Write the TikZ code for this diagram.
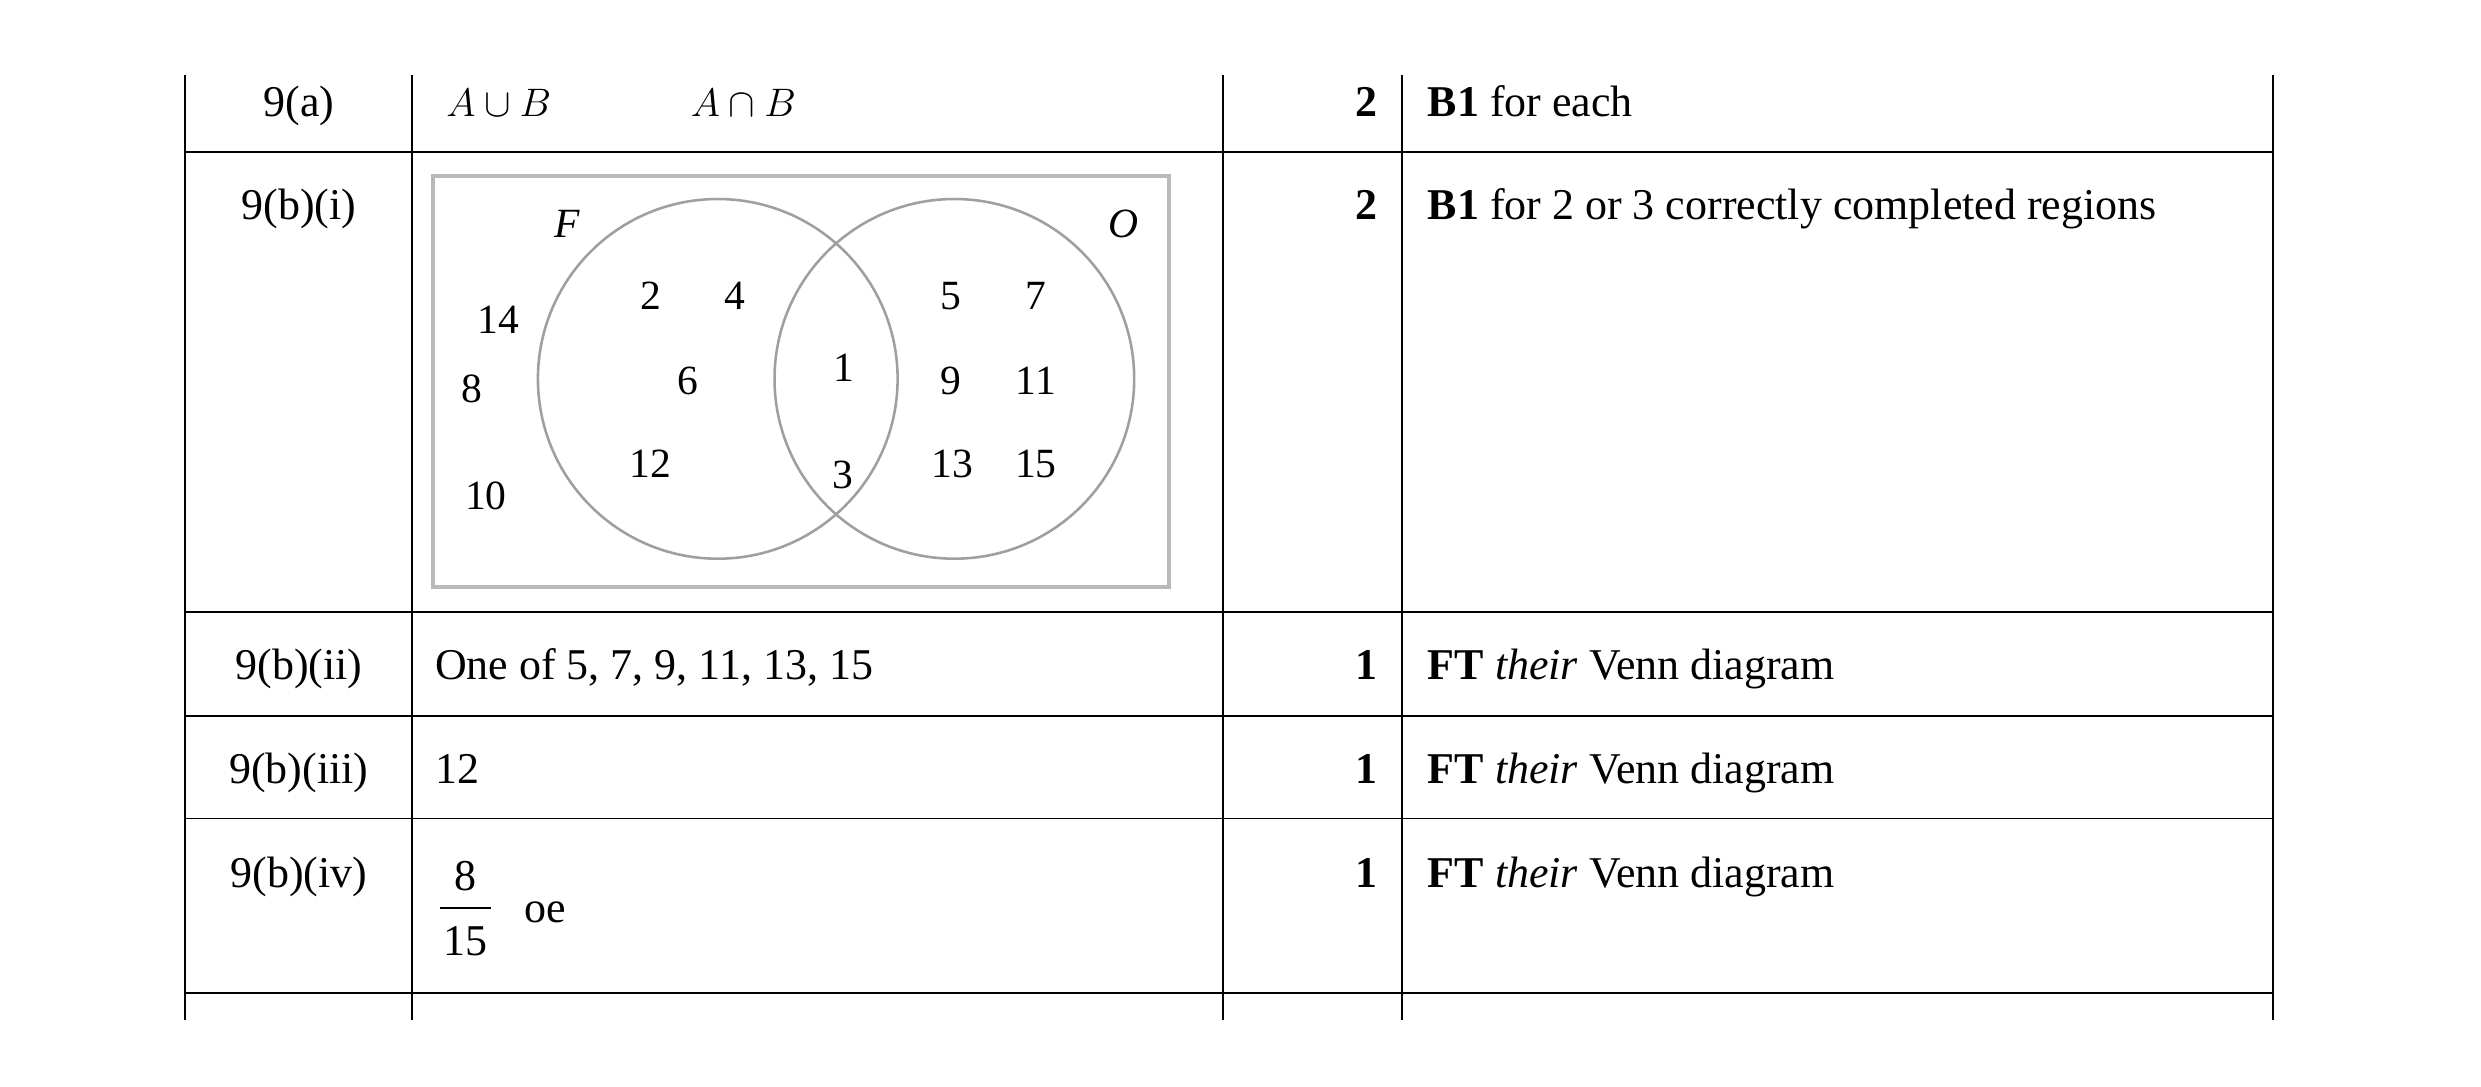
\documentclass[tikz,border=0pt]{standalone}
\usepackage{fontspec}
\setmainfont{Liberation Serif}
\usepackage{amsmath}
\begin{document}
\begin{tikzpicture}[x=1pt,y=-1pt,
  txt/.style={inner sep=0pt,anchor=base west,font=\fontsize{27.5}{31}\selectfont},
  lab/.style={inner sep=0pt,anchor=base,font=\fontsize{27.5}{31}\selectfont},
  mk/.style={inner sep=0pt,anchor=base east,font=\fontsize{27.5}{31}\selectfont\bfseries},
  vn/.style={inner sep=0pt,font=\fontsize{26}{30}\selectfont},
  grid/.style={line width=1.2pt,black},
  venn/.style={line width=1.6pt,gray!75}]
\useasboundingbox (0,0) rectangle (1552,679.4);
% grid
\foreach \x in {116,258,765,877,1422} \draw[grid] (\x,47) -- (\x,638);
\foreach \y in {95,383,448,512,621} \draw[grid] (116,\y) -- (1422,\y);
% row 9(a)
\node[lab] (l1) at (187,73) {9(a)};
\node[txt] (a1) at (279,73) {$A\cup B$};
\node[txt] (a2) at (432,73) {$A\cap B$};
\node[mk] (m1) at (862,73) {2};
\node[txt] (c1) at (893,73) {\textbf{B1} for each};
% row 9(b)(i)
\node[lab] (l2) at (187,137) {9(b)(i)};
\node[mk] (m2) at (862,137) {2};
\node[txt] (c2) at (893,137) {\textbf{B1} for 2 or 3 correctly completed regions};
\draw[line width=2.5pt,gray!55] (271,110) rectangle (731,367);
\node[circle,venn,draw,minimum size=225pt,inner sep=0pt] (F) at (449,237) {};
\node[circle,venn,draw,minimum size=225pt,inner sep=0pt] (O) at (597,237) {};
\node[vn,font=\fontsize{26}{30}\selectfont\itshape] (fl) at (355,140) {F};
\node[vn,font=\fontsize{26}{30}\selectfont\itshape] (ol) at (703,140) {O};
\node[vn] (n14) at (312,200) {14};
\node[vn] (n8) at (295,243) {8};
\node[vn] (n10) at (304,310) {10};
\node[vn] (n2) at (407,185) {2};
\node[vn] (n4) at (460,185) {4};
\node[vn] (n6) at (430,238) {6};
\node[vn] (n12) at (407,290) {12};
\node[vn] (n1) at (528,230) {1};
\node[vn] (n3) at (527,297) {3};
\node[vn] (n5) at (595,185) {5};
\node[vn] (n7) at (648,185) {7};
\node[vn] (n9) at (595,238) {9};
\node[vn] (n11) at (648,238) {11};
\node[vn] (n13) at (596,290) {13};
\node[vn] (n15) at (648,290) {15};
% row ii
\node[lab] (l3) at (187,425) {9(b)(ii)};
\node[txt] (a3) at (272,425) {One of 5, 7, 9, 11, 13, 15};
\node[mk] (m3) at (862,425) {1};
\node[txt] (c3) at (893,425) {\textbf{FT} \textit{their} Venn diagram};
% row iii
\node[lab] (l4) at (187,490) {9(b)(iii)};
\node[txt] (a4) at (272,490) {12};
\node[mk] (m4) at (862,490) {1};
\node[txt] (c4) at (893,490) {\textbf{FT} \textit{their} Venn diagram};
% row iv
\node[lab] (l5) at (187,555) {9(b)(iv)};
\node[lab] (fn) at (291,557) {8};
\node[lab] (fd) at (291,598) {15};
\draw[line width=1pt] (275,568) -- (307,568);
\node[txt] (oe) at (328,577) {oe};
\node[mk] (m5) at (862,555) {1};
\node[txt] (c5) at (893,555) {\textbf{FT} \textit{their} Venn diagram};
\end{tikzpicture}
\end{document}
